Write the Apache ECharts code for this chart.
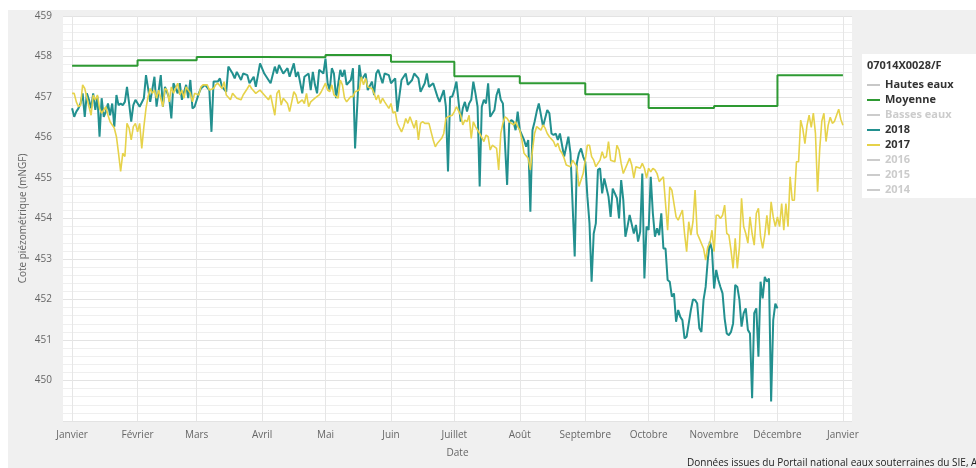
<!DOCTYPE html>
<html style="height: 100%">
<head>
	<meta charset="utf-8">
</head>
<body style="height: 100%; margin: 0; background: #fff">
<div style="position: absolute; left: 8px; top: 10px; right: 0; bottom: 0; background: #f0f0f0"></div>
<div id="container" style="position: absolute; left: 0; top: 0; width: 976px; height: 468px"></div>
<script type="text/javascript" src="https://cdn.jsdelivr.net/npm/echarts@6.0.0/dist/echarts.min.js"></script>
<script type="text/javascript">
    var dom = document.getElementById("container");
    var myChart = echarts.init(dom);

    // jours (depuis le 1er janvier) du début de chaque mois
    var monthStarts = [0, 31, 59, 90, 120, 151, 181, 212, 243, 273, 304, 334, 365];
    var monthNames = ["Janvier", "Février", "Mars", "Avril", "Mai", "Juin", "Juillet", "Août",
        "Septembre", "Octobre", "Novembre", "Décembre", "Janvier"];

    // moyenne mensuelle (palier par mois, dernier point = fin d'année)
    var moyenne = [457.77, 457.91, 457.99, 457.98, 458.04, 457.87, 457.51, 457.34, 457.07, 456.73, 456.78, 457.54, 457.54];

    // [jour, cote]
    var serie2018 = [[0,456.72],[1,456.51],[2,456.64],[3,456.72],[4,456.84],[5,457.09],[6,456.51],[7,457.09],[8,456.93],[9,456.72],[10,457.09],[11,456.68],[12,457.01],[13,456.02],[14,456.97],[15,456.51],[16,456.64],[17,456.84],[18,456.55],[19,456.84],[20,456.27],[21,457.05],[22,456.8],[23,456.84],[24,456.8],[25,456.88],[26,457.25],[27,456.84],[28,456.39],[29,456.8],[30,456.93],
        [32,456.76],[34,456.97],[35,457.54],[37,456.88],[39,457.5],[40,456.76],[42,457.54],[43,456.76],[44,457.25],[46,456.97],[47,456.47],[48,457.34],[50,457.09],[51,457.34],[52,456.93],[54,457.3],[55,456.97],[56,457.42],[57,456.72],[58,456.76],[60,457.09],[61,457.21],[63,457.3],[65,457.17],[66,456.14],[67,457.38],[69,457.38],[70,457.46],[71,457.25],[73,457.13],[74,457.75],[76,457.58],[77,457.46],[78,457.62],[80,457.42],[81,457.58],[83,457.54],[84,457.34],[86,457.5],[87,457.25],[89,457.83],
        [91,457.58],[93,457.42],[94,457.34],[96,457.75],[97,457.58],[98,457.79],[100,457.58],[102,457.71],[103,457.5],[105,457.83],[106,457.5],[107,457.62],[109,457.09],[110,457.5],[112,457.58],[113,457.17],[114,457.62],[115,457.3],[116,457.09],[117,457.67],[119,457.58],[120,457.95],[121,457.34],[122,457.17],[123,457.71],[124,457.58],[125,456.97],[127,457.67],[128,457.5],[129,457.67],[130,457.3],[132,457.42],[133,457.71],[134,455.73],[135,456.76],[136,457.79],[137,457.42],[139,457.58],[140,457.17],[142,457.38],[143,457.05],[144,457.58],[145,457.67],[147,457.34],[148,457.58],[150,457.54],
        [151,457.34],[153,457.46],[154,456.64],[156,457.42],[158,457.58],[159,457.3],[161,457.42],[162,457.58],[164,457.46],[165,457.13],[167,457.34],[168,457.58],[169,457.25],[171,457.34],[173,457.01],[174,456.88],[176,457.17],[177,456.76],[178,455.16],[179,457.0],[180,457.01],
        [181,457.17],[182,457.38],[184,456.39],[185,456.72],[186,456.88],[187,456.64],[188,456.84],[189,456.93],[190,457.38],[191,457.09],[192,456.76],[193,454.79],[194,456.76],[195,456.93],[196,456.84],[197,457.34],[198,456.51],[200,456.68],[201,457.05],[202,457.21],[203,456.93],[204,456.84],[206,454.83],[207,456.35],[208,456.43],[209,456.39],[210,456.18],[211,456.64],
        [212,456.18],[214,455.94],[215,455.77],[216,455.94],[217,454.17],[218,456.18],[219,456.39],[220,456.64],[221,456.84],[222,456.56],[223,456.27],[225,456.68],[226,456.6],[227,456.1],[228,456.06],[229,456.1],[230,455.94],[231,456.1],[232,455.81],[233,455.53],[234,455.77],[235,456.02],[236,455.61],[238,453.06],[239,455.36],[240,455.61],[241,455.73],[242,455.53],
        [243,455.4],[244,454.54],[245,453.88],[246,452.44],[247,453.63],[248,453.88],[249,455.2],[250,455.24],[251,454.62],[252,454.99],[254,454.54],[255,454.04],[256,454.74],[257,454.62],[258,454.5],[259,454.0],[260,454.95],[261,454.46],[262,453.55],[263,453.8],[264,454.09],[266,453.63],[267,453.84],[268,453.43],[269,453.67],[270,455.11],[271,452.52],[272,453.8],
        [273,453.72],[274,455.03],[275,454.13],[276,453.55],[277,453.76],[278,453.59],[279,454.13],[280,453.26],[281,453.26],[282,452.48],[283,452.44],[284,452.07],[285,452.15],[286,451.45],[287,451.74],[288,451.57],[289,451.49],[290,451.04],[291,451.08],[292,451.41],[293,451.74],[294,452.0],[295,451.99],[296,451.9],[297,451.29],[298,451.2],[299,451.99],[300,452.31],[301,452.97],[302,453.43],[303,453.22],
        [304,452.27],[305,452.73],[306,452.48],[307,452.31],[308,452.15],[309,451.53],[310,451.16],[311,451.12],[312,451.2],[313,451.41],[314,452.36],[315,452.31],[316,451.99],[317,451.33],[318,451.66],[319,451.78],[320,451.25],[321,451.16],[322,449.56],[323,451.66],[324,451.78],[325,450.59],[326,452.44],[327,452.03],[328,452.56],[329,452.44],[330,452.52],[331,449.48],[332,451.49],[333,451.9],[334,451.78]];

    var serie2017 = [[0,457.09],[1,457.09],[2,456.88],[3,456.76],[4,456.8],[5,457.3],[6,457.21],[8,456.76],[9,456.55],[10,457.05],[11,456.93],[12,457.05],[13,456.72],[14,456.6],[16,456.76],[17,456.55],[18,456.39],[20,456.23],[21,456.02],[22,455.61],[23,455.16],[24,455.61],[25,455.53],[26,456.35],[27,456.23],[28,455.94],[29,456.27],[30,456.35],
        [31,456.14],[32,456.35],[33,455.73],[34,456.27],[35,456.72],[36,457.01],[37,457.21],[38,457.09],[39,457.17],[40,456.97],[41,457.17],[43,456.76],[44,457.21],[45,457.17],[46,456.88],[47,457.25],[48,457.09],[50,457.34],[51,457.05],[52,457.17],[53,456.97],[54,457.25],[56,457.09],[57,456.88],[58,457.09],
        [60,457.05],[61,457.25],[62,457.3],[64,457.3],[65,457.17],[67,457.21],[68,457.3],[69,457.34],[71,457.21],[72,457.38],[73,457.05],[75,456.93],[76,457.09],[78,456.97],[80,456.93],[81,457.05],[83,457.21],[84,457.3],[85,457.21],[87,457.09],[88,457.13],
        [89,457.17],[91,457.05],[93,456.93],[94,457.05],[96,456.55],[97,457.09],[98,457.17],[99,456.8],[100,456.97],[102,456.84],[103,456.64],[104,456.88],[105,457.13],[106,457.05],[107,456.84],[109,456.93],[110,456.84],[111,457.09],[112,456.76],[113,456.88],[115,456.97],[117,457.05],[118,457.13],
        [120,457.34],[121,457.17],[122,457.13],[123,457.3],[124,457.05],[126,456.97],[127,457.42],[128,457.3],[129,456.97],[130,456.88],[132,457.01],[133,457.01],[134,457.13],[136,457.17],[137,457.5],[138,457.3],[139,457.46],[140,457.25],[142,457.21],[143,457.09],[144,456.93],[145,457.05],[146,456.84],[147,456.97],[148,456.88],[150,456.72],
        [151,456.84],[152,456.6],[153,456.64],[154,456.35],[156,456.14],[157,456.27],[158,456.47],[159,456.35],[160,456.51],[162,456.23],[163,456.43],[164,455.94],[165,456.35],[166,456.39],[167,456.35],[169,456.35],[170,456.14],[171,455.94],[172,455.77],[173,455.86],[175,455.98],[176,456.1],[177,456.47],[178,456.51],[180,456.55],
        [181,456.64],[182,456.76],[184,456.55],[185,456.31],[186,456.43],[187,456.39],[188,456.55],[189,455.98],[190,456.39],[191,456.27],[192,456.18],[193,456.1],[195,455.9],[196,456.06],[197,456.02],[198,455.69],[199,455.81],[201,455.73],[202,455.2],[203,456.1],[204,456.35],[205,456.51],[206,456.47],[207,456.39],[209,456.31],[210,456.39],[211,456.27],
        [212,456.18],[213,455.94],[214,455.61],[216,455.49],[217,455.2],[218,455.69],[219,456.1],[220,456.27],[222,456.18],[223,456.31],[224,456.23],[225,456.1],[226,456.02],[228,455.9],[229,455.77],[230,455.86],[231,455.69],[232,455.61],[233,455.49],[234,455.32],[236,455.28],[237,455.44],[238,455.36],[239,455.28],[240,454.79],[242,455.11],
        [243,455.44],[244,455.81],[245,455.81],[246,455.53],[247,455.44],[248,455.28],[250,455.44],[251,455.65],[252,455.49],[253,455.53],[254,455.9],[255,455.44],[257,455.4],[258,455.81],[259,455.69],[260,455.36],[261,455.11],[263,455.36],[264,455.49],[265,455.32],[266,455.0],[267,455.28],[269,455.24],[270,455.36],[271,455.24],[272,455.0],
        [273,455.24],[274,455.15],[275,455.24],[276,455.2],[277,455.11],[278,454.91],[280,455.03],[281,454.37],[282,453.71],[283,454.78],[284,454.7],[285,454.37],[286,454.04],[287,453.96],[289,454.21],[290,453.63],[291,453.18],[292,453.92],[293,453.59],[294,453.92],[295,454.7],[296,453.63],[297,453.51],[299,453.26],[300,452.97],[301,453.3],[302,453.39],[303,453.71],
        [304,453.18],[305,454.08],[306,454.08],[307,454.0],[308,454.08],[309,454.33],[310,453.63],[311,453.59],[312,453.22],[313,452.77],[314,453.51],[315,452.77],[316,453.3],[317,454.5],[318,453.8],[319,453.63],[320,453.39],[321,454.04],[322,453.63],[323,453.34],[324,454.13],[325,454.25],[326,453.55],[327,453.26],[328,453.59],[329,454.08],[330,453.59],[331,454.41],[332,454.04],[333,453.8],
        [334,454.04],[335,453.8],[336,454.37],[337,453.71],[338,454.37],[339,453.8],[340,455.03],[341,454.45],[342,454.45],[343,455.4],[344,455.4],[345,456.43],[346,456.22],[347,455.85],[348,456.3],[349,456.55],[350,456.25],[351,456.6],[352,456.1],[353,454.66],[354,455.7],[355,456.4],[356,456.6],[357,455.9],[358,456.3],[359,456.5],[360,456.35],[361,456.4],[362,456.55],[363,456.7],[364,456.45],[365,456.3]];

    var legendes = ["Hautes eaux", "Moyenne", "Basses eaux", "2018", "2017", "2016", "2015", "2014"];
    var couleurs = ['#c8c8c8', '#2e9a33', '#c8c8c8', '#22908f', '#e6d24a', '#c8c8c8', '#c8c8c8', '#c8c8c8'];

    var moyenneData = [];
    for (var i = 0; i < monthStarts.length; i++) {
        moyenneData.push([monthStarts[i], moyenne[i]]);
    }

    var donnees = {
        "Hautes eaux": [],
        "Moyenne": moyenneData,
        "Basses eaux": [],
        "2018": serie2018,
        "2017": serie2017,
        "2016": [],
        "2015": [],
        "2014": []
    };

    var series = [];
    for (var i = 0; i < legendes.length; i++) {
        series.push({
            name: legendes[i],
            type: 'line',
            data: donnees[legendes[i]],
            step: legendes[i] === "Moyenne" ? 'end' : false,
            showSymbol: false,
            symbol: 'none',
            color: couleurs[i],
            lineStyle: { width: legendes[i] === "2017" ? 1.6 : 2 }
        });
    }

    var police = '"Open Sans", "DejaVu Sans", sans-serif';

    var option = {
        animation: false,
        backgroundColor: 'transparent',
        textStyle: { fontFamily: police },
        title: {
            text: '07014X0028/F',
            left: 867,
            top: 60,
            padding: 0,
            textStyle: { fontSize: 11, fontWeight: 'bold', color: '#333', fontFamily: police }
        },
        legend: {
            data: legendes,
            orient: 'vertical',
            left: 867,
            top: 78,
            padding: 0,
            itemGap: 1,
            itemWidth: 13,
            itemHeight: 2,
            icon: 'rect',
            inactiveColor: '#cccccc',
            selected: { "Basses eaux": false, "2016": false, "2015": false, "2014": false },
            textStyle: { fontSize: 11, fontWeight: 'bold', color: '#333', lineHeight: 14, fontFamily: police }
        },
        graphic: [{
            type: 'rect',
            shape: { x: 862, y: 54, width: 120, height: 144 },
            style: { fill: '#ffffff' },
            silent: true
        }, {
            type: 'text',
            left: 687,
            top: 458,
            style: {
                text: 'Données issues du Portail national eaux souterraines du SIE, ADES',
                fill: '#222',
                font: '10px ' + police
            }
        }],
        grid: {
            left: 63,
            right: 124,
            top: 16,
            bottom: 47,
            show: true,
            backgroundColor: '#ffffff',
            borderWidth: 0
        },
        xAxis: {
            type: 'value',
            min: -4.3,
            max: 369.3,
            name: 'Date',
            nameLocation: 'middle',
            nameGap: 27,
            nameTextStyle: { color: '#666', fontSize: 10 },
            axisLine: { show: false },
            axisTick: { show: false, customValues: monthStarts },
            axisLabel: {
                customValues: monthStarts,
                color: '#666',
                fontSize: 10,
                margin: 9,
                formatter: function (v) {
                    var k = monthStarts.indexOf(v);
                    return k >= 0 ? monthNames[k] : '';
                }
            },
            splitLine: { show: true, lineStyle: { color: '#e6e6e6' } }
        },
        yAxis: {
            type: 'value',
            min: 449,
            max: 459,
            interval: 1,
            name: 'Cote piézométrique (mNGF)',
            nameLocation: 'middle',
            nameGap: 35,
            nameMoveOverlap: false,
            nameTextStyle: { color: '#666', fontSize: 10 },
            axisLine: { show: false },
            axisTick: { show: false },
            axisLabel: { color: '#666', fontSize: 10, margin: 11, showMinLabel: false },
            splitLine: { lineStyle: { color: '#e3e3e3' } },
            minorTick: { show: false, splitNumber: 5 },
            minorSplitLine: { show: true, lineStyle: { color: '#efefef' } }
        },
        series: series
    };

    myChart.setOption(option);
</script>
</body>
</html>
